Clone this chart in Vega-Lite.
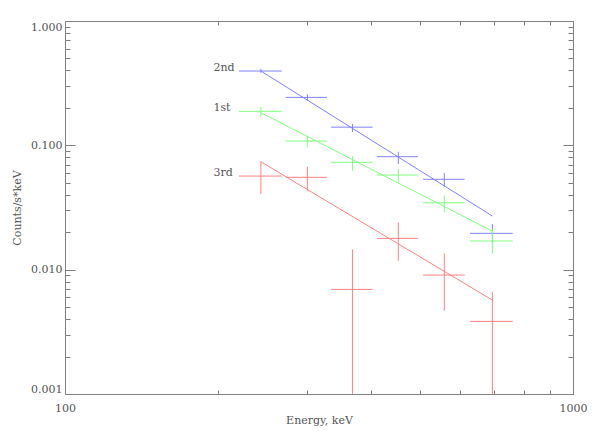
{
  "$schema": "https://vega.github.io/schema/vega-lite/v6.json",
  "width": 508,
  "height": 373,
  "autosize": "none",
  "padding": {"left": 65, "top": 21, "right": 19, "bottom": 42},
  "background": "white",
  "config": {
    "view": {"stroke": "#808080", "strokeWidth": 1},
    "font": "DejaVu Serif",
    "axis": {"labelFont": "DejaVu Serif", "titleFont": "DejaVu Serif", "labelColor": "#555555", "titleColor": "#555555", "labelFontSize": 11, "titleFontSize": 11, "titleFontWeight": "normal", "tickColor": "#808080", "domain": false, "grid": false}
  },
  "datasets": {
    "pts": [
      {"series": "2nd", "e": 243, "elo": 220, "ehi": 267, "c": 0.396, "clo": 0.383, "chi": 0.411},
      {"series": "2nd", "e": 300, "elo": 272, "ehi": 328, "c": 0.243, "clo": 0.2285, "chi": 0.2572},
      {"series": "2nd", "e": 368, "elo": 334, "ehi": 403, "c": 0.140, "clo": 0.128, "chi": 0.1484},
      {"series": "2nd", "e": 453, "elo": 411, "ehi": 495, "c": 0.081, "clo": 0.0707, "chi": 0.0888},
      {"series": "2nd", "e": 558, "elo": 507, "ehi": 612, "c": 0.0533, "clo": 0.0464, "chi": 0.0599},
      {"series": "2nd", "e": 694, "elo": 627, "ehi": 761, "c": 0.0196, "clo": 0.0163, "chi": 0.0233},
      {"series": "1st", "e": 243, "elo": 220, "ehi": 267, "c": 0.1877, "clo": 0.1698, "chi": 0.2044},
      {"series": "1st", "e": 300, "elo": 272, "ehi": 328, "c": 0.1083, "clo": 0.0964, "chi": 0.1195},
      {"series": "1st", "e": 368, "elo": 334, "ehi": 403, "c": 0.073, "clo": 0.0625, "chi": 0.082},
      {"series": "1st", "e": 453, "elo": 411, "ehi": 495, "c": 0.0577, "clo": 0.0497, "chi": 0.0645},
      {"series": "1st", "e": 558, "elo": 507, "ehi": 612, "c": 0.0345, "clo": 0.0289, "chi": 0.0396},
      {"series": "1st", "e": 694, "elo": 627, "ehi": 761, "c": 0.017, "clo": 0.0135, "chi": 0.0212},
      {"series": "3rd", "e": 243, "elo": 220, "ehi": 267, "c": 0.0566, "clo": 0.0406, "chi": 0.0738},
      {"series": "3rd", "e": 300, "elo": 272, "ehi": 328, "c": 0.0553, "clo": 0.0431, "chi": 0.0673},
      {"series": "3rd", "e": 368, "elo": 334, "ehi": 403, "c": 0.00694, "clo": 0.001, "chi": 0.01457},
      {"series": "3rd", "e": 453, "elo": 411, "ehi": 495, "c": 0.01786, "clo": 0.0118, "chi": 0.024},
      {"series": "3rd", "e": 558, "elo": 507, "ehi": 612, "c": 0.00905, "clo": 0.00467, "chi": 0.0135},
      {"series": "3rd", "e": 694, "elo": 627, "ehi": 761, "c": 0.00384, "clo": 0.001, "chi": 0.00664}
    ],
    "model": [
      {"series": "2nd", "e": 243, "c": 0.396},
      {"series": "2nd", "e": 694, "c": 0.027},
      {"series": "1st", "e": 243, "c": 0.183},
      {"series": "1st", "e": 694, "c": 0.0204},
      {"series": "3rd", "e": 243, "c": 0.0738},
      {"series": "3rd", "e": 694, "c": 0.00569}
    ],
    "labels": [
      {"series": "2nd", "e": 196, "c": 0.4164},
      {"series": "1st", "e": 196, "c": 0.1985},
      {"series": "3rd", "e": 196, "c": 0.0602}
    ]
  },
  "resolve": {"axis": {"x": "independent", "y": "independent"}},
  "layer": [
    {
      "data": {"name": "pts"},
      "mark": {"type": "rule", "strokeWidth": 1, "clip": true},
      "encoding": {
        "x": {"field": "elo", "type": "quantitative", "scale": {"type": "log", "domain": [100, 1000], "nice": false},
          "axis": {"orient": "bottom", "values": [100, 200, 300, 400, 500, 600, 700, 800, 900, 1000], "labelExpr": "datum.value == 100 || datum.value == 1000 ? datum.value : ''", "labelFlush": false, "labelOverlap": false, "tickSize": -4, "labelPadding": 12, "title": "Energy, keV", "titlePadding": 1}},
        "x2": {"field": "ehi"},
        "y": {"field": "c", "type": "quantitative", "scale": {"type": "log", "domain": [0.001, 1], "nice": false},
          "axis": {"orient": "left", "values": [0.001, 0.01, 0.1, 1], "format": ".3f", "tickSize": -10, "labelPadding": 13, "labelFlush": true, "title": "Counts/s*keV", "titlePadding": 8}},
        "color": {"field": "series", "type": "nominal", "scale": {"domain": ["1st", "2nd", "3rd"], "range": ["#80ff80", "#8080ff", "#ff8080"]}, "legend": null}
      }
    },
    {
      "data": {"name": "pts"},
      "mark": {"type": "rule", "strokeWidth": 1, "clip": true},
      "encoding": {
        "x": {"field": "e", "type": "quantitative", "scale": {"type": "log", "domain": [100, 1000], "nice": false},
          "axis": {"orient": "top", "values": [200, 300, 400, 500, 600, 700, 800, 900], "labels": false, "tickSize": -4, "title": null}},
        "y": {"field": "clo", "type": "quantitative", "scale": {"type": "log", "domain": [0.001, 1], "nice": false},
          "axis": {"orient": "right", "values": [0.001, 0.01, 0.1, 1], "labels": false, "tickSize": -10, "title": null}},
        "y2": {"field": "chi"},
        "color": {"field": "series", "type": "nominal", "legend": null}
      }
    },
    {
      "data": {"name": "model"},
      "mark": {"type": "line", "strokeWidth": 1, "clip": true},
      "encoding": {
        "x": {"field": "e", "type": "quantitative", "scale": {"type": "log", "domain": [100, 1000], "nice": false}, "axis": null},
        "y": {"field": "c", "type": "quantitative", "scale": {"type": "log", "domain": [0.001, 1], "nice": false},
          "axis": {"orient": "left", "values": [0.002, 0.003, 0.004, 0.005, 0.006, 0.007, 0.008, 0.009, 0.02, 0.03, 0.04, 0.05, 0.06, 0.07, 0.08, 0.09, 0.2, 0.3, 0.4, 0.5, 0.6, 0.7, 0.8, 0.9], "labels": false, "tickSize": -5, "title": null}},
        "color": {"field": "series", "type": "nominal", "legend": null},
        "detail": {"field": "series"}
      }
    },
    {
      "data": {"name": "labels"},
      "mark": {"type": "text", "align": "left", "baseline": "middle", "font": "DejaVu Serif", "fontSize": 11, "color": "#555555"},
      "encoding": {
        "x": {"field": "e", "type": "quantitative", "scale": {"type": "log", "domain": [100, 1000], "nice": false}, "axis": null},
        "y": {"field": "c", "type": "quantitative", "scale": {"type": "log", "domain": [0.001, 1], "nice": false},
          "axis": {"orient": "right", "values": [0.002, 0.003, 0.004, 0.005, 0.006, 0.007, 0.008, 0.009, 0.02, 0.03, 0.04, 0.05, 0.06, 0.07, 0.08, 0.09, 0.2, 0.3, 0.4, 0.5, 0.6, 0.7, 0.8, 0.9], "labels": false, "tickSize": -5, "title": null}},
        "text": {"field": "series"}
      }
    }
  ]
}
